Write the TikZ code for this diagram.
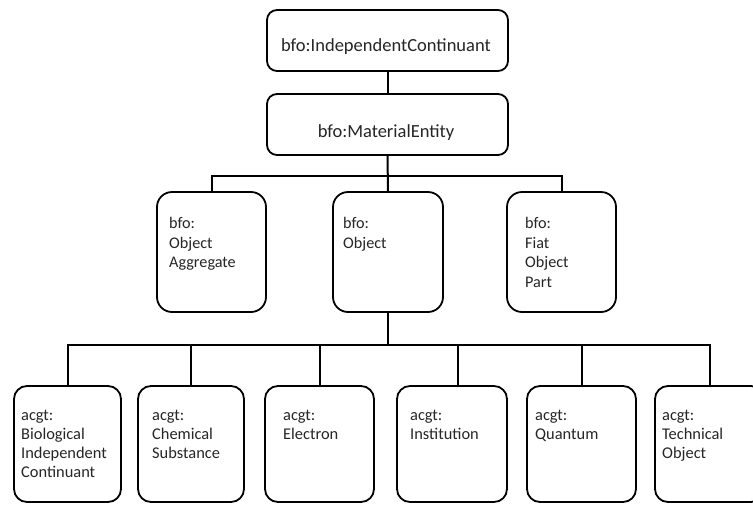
\documentclass[tikz,border=0pt]{standalone}
\usepackage{fontspec}
\setmainfont{Carlito}
\begin{document}
\begin{tikzpicture}[x=1pt,y=-1pt,
  box/.style={draw=black, line width=1.8pt, fill=white, rounded corners=#1, inner sep=0pt},
  box/.default=12pt,
  ln/.style={draw=black, line width=2pt},
  lbl/.style={font=\fontsize{18.5}{22}\selectfont, text=black!85, inner sep=0pt},
  mlbl/.style={font=\fontsize{16.2}{19.8}\selectfont, text=black!85, inner sep=0pt, align=left, anchor=north west},
  blbl/.style={font=\fontsize{16.4}{19}\selectfont, text=black!85, inner sep=0pt, align=left, anchor=north west}
]
\useasboundingbox (0,0) rectangle (753,504);
\clip (0,0) rectangle (753,504);

% top boxes
\node[box=10pt, minimum width=241pt, minimum height=61pt] (ic) at (387.5,40.5) {};
\node[lbl, anchor=base] (ict) at (386,51.5) {bfo:IndependentContinuant};
\node[box=10pt, minimum width=241pt, minimum height=61pt] (me) at (387.5,124.5) {};
\node[lbl, anchor=base] (met) at (386,137) {bfo:MaterialEntity};

% middle boxes
\node[box=15pt, minimum width=109pt, minimum height=120pt] (oa) at (211.5,252) {};
\node[box=15pt, minimum width=110pt, minimum height=120pt] (obj) at (388,252) {};
\node[box=15pt, minimum width=109pt, minimum height=120pt] (fop) at (561.5,252) {};
\node[mlbl] (oat) at (169,216) {\rule{0pt}{12pt}bfo:\\Object\\Aggregate};
\node[mlbl] (objt) at (343,216) {\rule{0pt}{12pt}bfo:\\Object};
\node[mlbl] (fopt) at (525,216) {\rule{0pt}{12pt}bfo:\\Fiat\\Object\\Part};

% bottom boxes
\node[box=13pt, minimum width=107pt, minimum height=116pt] (b1) at (67.5,444) {};
\node[box=13pt, minimum width=106pt, minimum height=116pt] (b2) at (191,444) {};
\node[box=13pt, minimum width=109pt, minimum height=116pt] (b3) at (319.5,444) {};
\node[box=13pt, minimum width=110pt, minimum height=116pt] (b4) at (452,444) {};
\node[box=13pt, minimum width=109pt, minimum height=116pt] (b5) at (581.5,444) {};
\node[box=13pt, minimum width=109pt, minimum height=116pt] (b6) at (709.5,444) {};
\node[blbl] (b1t) at (21,408) {\rule{0pt}{12pt}acgt:\\Biological\\Independent\\Continuant};
\node[blbl] (b2t) at (152,408) {\rule{0pt}{12pt}acgt:\\Chemical\\Substance};
\node[blbl] (b3t) at (283,408) {\rule{0pt}{12pt}acgt:\\Electron};
\node[blbl] (b4t) at (410,408) {\rule{0pt}{12pt}acgt:\\Institution};
\node[blbl] (b5t) at (535,408) {\rule{0pt}{12pt}acgt:\\Quantum};
\node[blbl] (b6t) at (662,408) {\rule{0pt}{12pt}acgt:\\Technical\\Object};

% junctions
\coordinate (j1) at (387.5,176);
\coordinate (j2) at (388,345);
\coordinate (c4) at (458,386);

% connectors
\draw[ln] (ic.south) -- (me.north);
\draw[ln] (me.south) -- (obj.north);
\draw[ln] (oa.north) -- (oa.north |- j1) -- (fop.north |- j1) -- (fop.north);
\draw[ln] (obj.south) -- (j2);
\draw[ln] (b1.north) -- (b1.north |- j2) -- (b6.north |- j2) -- (b6.north);
\draw[ln] (b2.north) -- (b2.north |- j2);
\draw[ln] (b3.north) -- (b3.north |- j2);
\draw[ln] (c4) -- (c4 |- j2);
\draw[ln] (b5.north) -- (b5.north |- j2);
\end{tikzpicture}
\end{document}
